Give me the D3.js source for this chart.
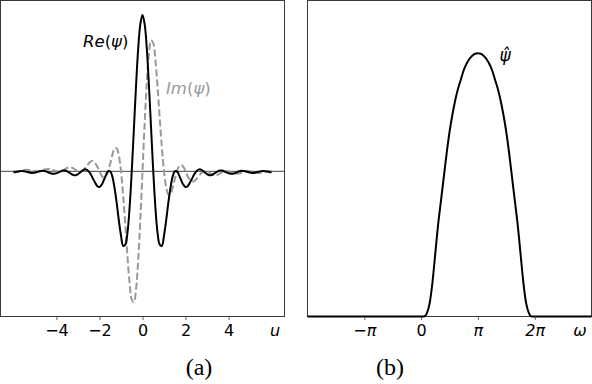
<!DOCTYPE html>
<html>
<head>
<meta charset="utf-8">
<script src="https://cdn.jsdelivr.net/npm/d3@7"></script>
<style>
  html, body { margin: 0; padding: 0; background: #fff; }
  svg { display: block; font-family: "DejaVu Sans", sans-serif; }
</style>
</head>
<body>
<div class="chart"></div>
<script>
// panel (a): wavelet in time, u = -6 .. 6 step 0.1
const uGrid = d3.range(-60, 61).map(i => i / 10);

const reValues = [
  -.006, -.004, -.001, .001, .002, 0, -.003, -.006, -.009, -.010, -.008, -.004, 0, .002, .003, 0,
  -.005, -.011, -.015, -.015, -.012, -.007, 0, .005, .005, 0, -.008, -.018, -.024, -.025, -.018,
  -.008, .004, .012, .011, 0, -.020, -.047, -.073, -.095, -.100, -.086, -.057, -.024, 0, 0,
  -.034, -.106, -.202, -.314, -.410, -.476, -.469, -.394, -.232, 0, .272, .547, .785, .941,
  1.000,
  .941, .785, .547, .272, 0, -.232, -.394, -.469, -.476, -.410, -.314, -.202, -.106, -.034, 0,
  0, -.024, -.057, -.086, -.100, -.095, -.073, -.047, -.020, 0, .011, .012, .004, -.008, -.018,
  -.025, -.024, -.018, -.008, 0, .005, .005, 0, -.007, -.012, -.015, -.015, -.011, -.005, 0,
  .003, .002, 0, -.004, -.008, -.010, -.009, -.006, -.003, 0, .002, .001, -.001, -.004, -.006
];

const imValues = [
  0, -.001, -.001, .002, .005, .008, .010, .009, .006, .003, 0, -.001, 0, .003, .009, .013,
  .015, .015, .011, .005, 0, -.002, 0, .006, .014, .022, .026, .024, .018, .008, 0, -.002,
  .003, .016, .033, .050, .063, .065, .053, .031, 0, -.028, -.041, -.032, 0, .050, .105, .146,
  .147, .102, 0, -.155, -.341, -.542, -.713, -.820, -.837, -.752, -.570, -.306,
  0,
  .306, .570, .752, .837, .820, .713, .542, .341, .155, 0, -.102, -.147, -.146, -.105, -.050,
  0, .032, .041, .028, 0, -.031, -.053, -.065, -.063, -.050, -.033, -.016, -.003, .002, 0,
  -.008, -.018, -.024, -.026, -.022, -.014, -.006, 0, .002, 0, -.005, -.011, -.015, -.015,
  -.013, -.009, -.003, 0, .001, 0, -.003, -.006, -.009, -.010, -.008, -.005, -.002, .001, .001, 0
];

const uTicks = [-4, -2, 0, 2, 4];

// panel (b): Fourier transform, omega in units of pi
const omegaValues = [-2, 0, 0.05, 0.10, 0.15, 0.20, 0.25, 0.30, 0.35, 0.40, 0.45, 0.50, 0.55,
  0.60, 0.65, 0.70, 0.75, 0.80, 0.85, 0.90, 0.95, 1.00, 1.05, 1.10, 1.15, 1.20, 1.25, 1.30,
  1.35, 1.40, 1.45, 1.50, 1.55, 1.60, 1.65, 1.70, 1.75, 1.80, 1.85, 1.90, 1.95, 2.00, 3];
const psiHatValues = [0, 0, 0, .012, .05, .13, .24, .35, .44, .53, .62, .70, .765,
  .82, .865, .90, .935, .96, .978, .99, .998, 1.0, .998, .99, .978, .96, .935, .90,
  .865, .82, .765, .70, .62, .53, .44, .35, .24, .13, .05, .012, 0, 0, 0];

const omegaTicks = [-1, 0, 1, 2];
const omegaTickLabels = ["−π", "0", "π", "2π"];

const W = 592, H = 384;
const frameColor = "#3a3a3a";

const svg = d3.select(".chart").append("svg")
  .attr("width", W).attr("height", H)
  .attr("viewBox", `0 0 ${W} ${H}`);

svg.append("rect").attr("width", W).attr("height", H).attr("fill", "#fff");

function frame(g, x0, x1, y0, y1) {
  g.append("rect")
    .attr("x", x0).attr("y", y0)
    .attr("width", x1 - x0).attr("height", y1 - y0)
    .attr("fill", "none").attr("stroke", frameColor).attr("stroke-width", 1);
}

function bottomAxis(g, scale, ticks, labels, y) {
  const axis = d3.axisBottom(scale)
    .tickValues(ticks)
    .tickSize(3.5)
    .tickFormat((d, i) => labels[i]);
  const a = g.append("g").attr("transform", `translate(0,${y})`).call(axis);
  a.select(".domain").remove();
  a.selectAll(".tick line").attr("stroke", frameColor).attr("stroke-width", 0.8);
  a.selectAll(".tick text")
    .attr("y", 19.5).attr("dy", 0)
    .attr("fill", "#000")
    .style("font-family", "DejaVu Sans")
    .style("font-size", "16px");
}

// ---------- panel (a)
const plotTop = 0.5, plotBottom = 316.5;
const xa = d3.scaleLinear().domain([-6.6, 6.6]).range([0.5, 284.5]);
const ya = d3.scaleLinear().domain([-0.928, 1.092]).range([plotBottom, plotTop]);

const ga = svg.append("g");
frame(ga, 0.5, 284.5, plotTop, plotBottom);

ga.append("line")
  .attr("x1", 0.5).attr("x2", 284.5)
  .attr("y1", ya(0)).attr("y2", ya(0))
  .attr("stroke", "#444").attr("stroke-width", 1);

const lineA = d3.line()
  .x(d => xa(d[0])).y(d => ya(d[1]))
  .curve(d3.curveCatmullRom.alpha(0.5));

ga.append("path")
  .datum(uGrid.map((u, i) => [u, imValues[i]]))
  .attr("d", lineA)
  .attr("fill", "none").attr("stroke", "#999")
  .attr("stroke-width", 2).attr("stroke-dasharray", "7,3");

ga.append("path")
  .datum(uGrid.map((u, i) => [u, reValues[i]]))
  .attr("d", lineA)
  .attr("fill", "none").attr("stroke", "#000")
  .attr("stroke-width", 2);

bottomAxis(ga, xa, uTicks, uTicks.map(d => d < 0 ? "−" + Math.abs(d) : String(d)), plotBottom);

const reLabel = ga.append("text").attr("x", 83).attr("y", 46.5)
  .attr("fill", "#000").style("font-size", "16.5px");
reLabel.append("tspan").style("font-style", "italic").text("Re");
reLabel.append("tspan").text("(");
reLabel.append("tspan").style("font-style", "italic").text("ψ");
reLabel.append("tspan").text(")");

const imLabel = ga.append("text").attr("x", 166).attr("y", 93.5)
  .attr("fill", "#999").style("font-size", "16.5px");
imLabel.append("tspan").style("font-style", "italic").text("Im");
imLabel.append("tspan").text("(");
imLabel.append("tspan").style("font-style", "italic").text("ψ");
imLabel.append("tspan").text(")");

ga.append("text").attr("x", 275).attr("y", 336)
  .attr("text-anchor", "middle")
  .style("font-style", "italic").style("font-size", "16px")
  .text("u");

ga.append("text").attr("x", 199).attr("y", 375)
  .attr("text-anchor", "middle")
  .style("font-family", "'Liberation Serif', serif").style("font-size", "24px")
  .text("(a)");

// ---------- panel (b)
const xb = d3.scaleLinear().domain([-2, 3]).range([307.5, 591.5]);
const yb = d3.scaleLinear().domain([0, 1.2]).range([plotBottom, plotTop]);

const gb = svg.append("g");
frame(gb, 307.5, 591.5, plotTop, plotBottom);

const lineB = d3.line()
  .x(d => xb(d[0])).y(d => yb(d[1]))
  .curve(d3.curveMonotoneX);

gb.append("path")
  .datum(omegaValues.map((w, i) => [w, psiHatValues[i]]))
  .attr("d", lineB)
  .attr("fill", "none").attr("stroke", "#000")
  .attr("stroke-width", 2);

bottomAxis(gb, xb, omegaTicks, omegaTickLabels, plotBottom);
gb.selectAll(".tick text").style("font-style", "italic");
gb.selectAll(".tick text").filter((d, i) => omegaTickLabels[i] === "0").style("font-style", "normal");

gb.append("text").attr("x", 505).attr("y", 61)
  .attr("text-anchor", "middle")
  .style("font-style", "italic").style("font-size", "17px")
  .text("ψ̂");

gb.append("text").attr("x", 580).attr("y", 336)
  .attr("text-anchor", "middle")
  .style("font-style", "italic").style("font-size", "16px")
  .text("ω");

gb.append("text").attr("x", 390).attr("y", 375)
  .attr("text-anchor", "middle")
  .style("font-family", "'Liberation Serif', serif").style("font-size", "24px")
  .text("(b)");
</script>
</body>
</html>
